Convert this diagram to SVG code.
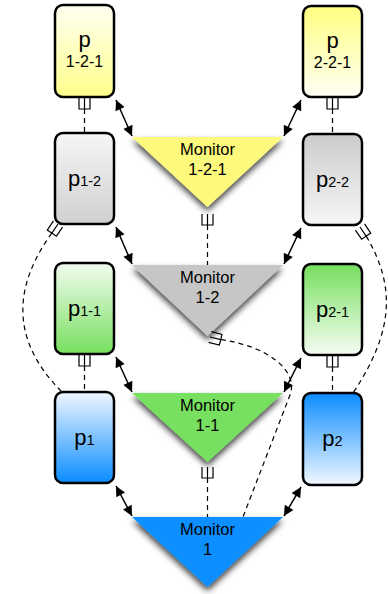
<svg xmlns="http://www.w3.org/2000/svg" width="388" height="594" viewBox="0 0 388 594">
<defs>
<style>
.box{stroke:#000;stroke-width:2.5}
.lbl{font-family:"Liberation Sans",Arial,Helvetica,sans-serif;fill:#000}
.big{font-size:22px}
.sub{font-size:14.5px}
.mon{font-size:16.5px}
.dash{fill:none;stroke:#000;stroke-width:1.2;stroke-dasharray:5 4}
.sym{fill:none;stroke:#000;stroke-width:1.2}
.arr{fill:none;stroke:#000;stroke-width:1.5;marker-start:url(#ah);marker-end:url(#ah)}
.tri{filter:url(#sh)}
</style>
<marker id="ah" viewBox="0 0 10 10" refX="10" refY="5" markerWidth="12" markerHeight="10" markerUnits="userSpaceOnUse" orient="auto-start-reverse"><path d="M0,0 L10,5 L0,10 z" fill="#000"/></marker>
<filter id="sh" x="-20%" y="-20%" width="140%" height="160%"><feDropShadow dx="0" dy="4" stdDeviation="3" flood-color="#000" flood-opacity="0.75"/></filter>
<linearGradient id="yL" x1="0" y1="0" x2="0" y2="1"><stop offset="0" stop-color="#fffff2"/><stop offset="1" stop-color="#ffff8a"/></linearGradient>
<linearGradient id="yR" x1="0" y1="0" x2="0" y2="1"><stop offset="0" stop-color="#ffff80"/><stop offset="1" stop-color="#fffff6"/></linearGradient>
<linearGradient id="gL" x1="0" y1="0" x2="0" y2="1"><stop offset="0" stop-color="#f6f6f6"/><stop offset="1" stop-color="#d0d0d0"/></linearGradient>
<linearGradient id="gR" x1="0" y1="0" x2="0" y2="1"><stop offset="0" stop-color="#cccccc"/><stop offset="1" stop-color="#f6f6f6"/></linearGradient>
<linearGradient id="nL" x1="0" y1="0" x2="0" y2="1"><stop offset="0" stop-color="#f2fcf0"/><stop offset="1" stop-color="#76df5e"/></linearGradient>
<linearGradient id="nR" x1="0" y1="0" x2="0" y2="1"><stop offset="0" stop-color="#76df5e"/><stop offset="1" stop-color="#f6fdf4"/></linearGradient>
<linearGradient id="bL" x1="0" y1="0" x2="0" y2="1"><stop offset="0" stop-color="#f0f7ff"/><stop offset="1" stop-color="#0a8cff"/></linearGradient>
<linearGradient id="bR" x1="0" y1="0" x2="0" y2="1"><stop offset="0" stop-color="#0a8cff"/><stop offset="1" stop-color="#f2f8ff"/></linearGradient>
<path id="fork" d="M-5.5,0 V11 H5.5 V0 M0,0 V11"/>
</defs>
<g id="monitor-1-2-1">
<polygon class="tri" points="132,137 283,137 207.5,207" fill="#fdf97c"/>
<text class="lbl mon" x="207.5" y="155" text-anchor="middle">Monitor</text>
<text class="lbl mon" x="207.5" y="175" text-anchor="middle">1-2-1</text>
</g>
<g id="monitor-1-2">
<polygon class="tri" points="132,265 283,265 207.5,336" fill="#c6c6c6"/>
<text class="lbl mon" x="207.5" y="283" text-anchor="middle">Monitor</text>
<text class="lbl mon" x="207.5" y="303" text-anchor="middle">1-2</text>
</g>
<g id="monitor-1-1">
<polygon class="tri" points="132,393 283,393 207.5,462" fill="#78e060"/>
<text class="lbl mon" x="207.5" y="411" text-anchor="middle">Monitor</text>
<text class="lbl mon" x="207.5" y="431" text-anchor="middle">1-1</text>
</g>
<g id="monitor-1">
<polygon class="tri" points="132,517 283,517 207.5,587" fill="#0a8fff"/>
<text class="lbl mon" x="207.5" y="535" text-anchor="middle">Monitor</text>
<text class="lbl mon" x="207.5" y="555" text-anchor="middle">1</text>
</g>
<g id="p1-2-1">
<rect class="box" x="55" y="5" width="59" height="92" rx="8" fill="url(#yL)"/>
<text class="lbl big" x="84.5" y="47" text-anchor="middle">p</text>
<text class="lbl" x="84.5" y="67" text-anchor="middle" font-size="16">1-2-1</text>
</g>
<g id="p2-2-1">
<rect class="box" x="303" y="6" width="59" height="91" rx="8" fill="url(#yR)"/>
<text class="lbl big" x="332.5" y="48" text-anchor="middle">p</text>
<text class="lbl" x="332.5" y="68" text-anchor="middle" font-size="16">2-2-1</text>
</g>
<g id="p1-2">
<rect class="box" x="55" y="133" width="59" height="91" rx="8" fill="url(#gL)"/>
<text class="lbl" x="84.5" y="186" text-anchor="middle"><tspan class="big">p</tspan><tspan class="sub">1-2</tspan></text>
</g>
<g id="p2-2">
<rect class="box" x="303" y="134" width="59" height="91" rx="8" fill="url(#gR)"/>
<text class="lbl" x="332.5" y="187" text-anchor="middle"><tspan class="big">p</tspan><tspan class="sub">2-2</tspan></text>
</g>
<g id="p1-1">
<rect class="box" x="55" y="263" width="59" height="91" rx="8" fill="url(#nL)"/>
<text class="lbl" x="84.5" y="316" text-anchor="middle"><tspan class="big">p</tspan><tspan class="sub">1-1</tspan></text>
</g>
<g id="p2-1">
<rect class="box" x="303" y="264" width="59" height="91" rx="8" fill="url(#nR)"/>
<text class="lbl" x="332.5" y="317" text-anchor="middle"><tspan class="big">p</tspan><tspan class="sub">2-1</tspan></text>
</g>
<g id="p1">
<rect class="box" x="55" y="392" width="59" height="91" rx="8" fill="url(#bL)"/>
<text class="lbl" x="84.5" y="445" text-anchor="middle"><tspan class="big">p</tspan><tspan class="sub">1</tspan></text>
</g>
<g id="p2">
<rect class="box" x="303" y="393" width="59" height="92" rx="8" fill="url(#bR)"/>
<text class="lbl" x="332.5" y="446" text-anchor="middle"><tspan class="big">p</tspan><tspan class="sub">2</tspan></text>
</g>
<g id="connectors">
<line class="arr" x1="116" y1="100" x2="132" y2="136"/>
<line class="arr" x1="116" y1="227" x2="132" y2="264"/>
<line class="arr" x1="116" y1="357" x2="132" y2="392"/>
<line class="arr" x1="116" y1="486" x2="132" y2="516"/>
<line class="arr" x1="301" y1="100" x2="284" y2="136"/>
<line class="arr" x1="301" y1="228" x2="284" y2="264"/>
<line class="arr" x1="301" y1="358" x2="284" y2="392"/>
<line class="arr" x1="301" y1="487" x2="284" y2="516"/>
<use href="#fork" class="sym" transform="translate(84.5,98)"/>
<line class="dash" x1="84.5" y1="109" x2="84.5" y2="133"/>
<use href="#fork" class="sym" transform="translate(332.5,98)"/>
<line class="dash" x1="332.5" y1="109" x2="332.5" y2="134"/>
<use href="#fork" class="sym" transform="translate(207.5,214)"/>
<line class="dash" x1="207.5" y1="225" x2="207.5" y2="265"/>
<use href="#fork" class="sym" transform="translate(84.5,355)"/>
<line class="dash" x1="84.5" y1="366" x2="84.5" y2="392"/>
<use href="#fork" class="sym" transform="translate(332.5,356)"/>
<line class="dash" x1="332.5" y1="367" x2="332.5" y2="393"/>
<use href="#fork" class="sym" transform="translate(207.5,467)"/>
<line class="dash" x1="207.5" y1="478" x2="207.5" y2="517"/>
<use href="#fork" class="sym" transform="translate(58,224) rotate(34)"/>
<path class="dash" d="M51.8,233.1 C18,280 5,335 62,392"/>
<use href="#fork" class="sym" transform="translate(360,227) rotate(-34)"/>
<path class="dash" d="M366.2,236.1 C395,285 395,330 353,393"/>
<use href="#fork" class="sym" transform="translate(210,337) rotate(-76)"/>
<path class="dash" d="M220.7,339.7 C268,346 299,371 290,395 L243,517"/>
</g>
</svg>
